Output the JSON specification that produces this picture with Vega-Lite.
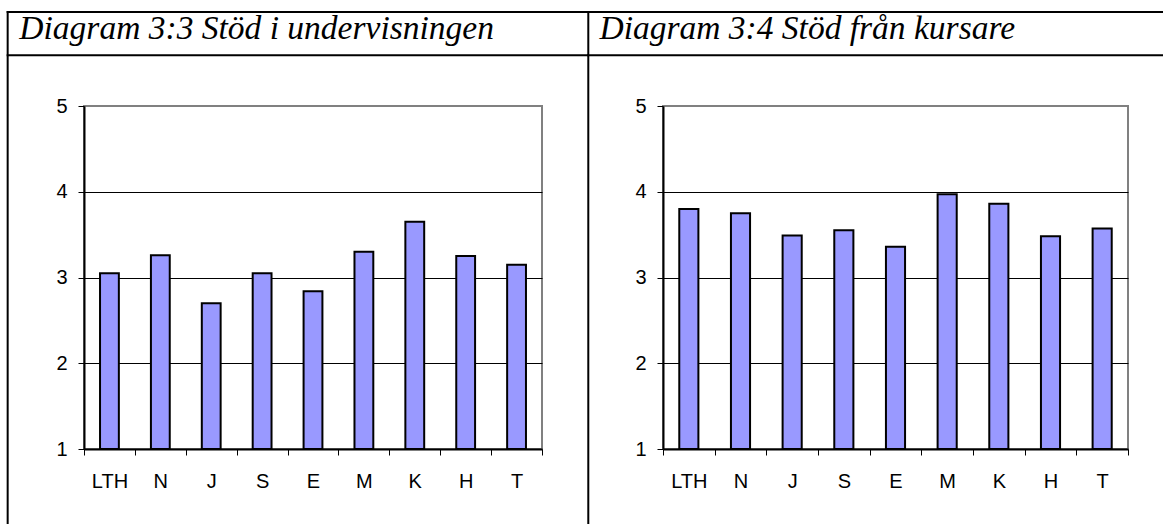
{
  "$schema": "https://vega.github.io/schema/vega-lite/v6.json",
  "padding": {"left": 5, "top": 9, "right": 0, "bottom": 0},
  "background": "white",
  "datasets": {
    "bars": [
      {"panel": "3:3", "program": "LTH", "value": 3.05},
      {"panel": "3:3", "program": "N", "value": 3.26},
      {"panel": "3:3", "program": "J", "value": 2.70},
      {"panel": "3:3", "program": "S", "value": 3.05},
      {"panel": "3:3", "program": "E", "value": 2.84},
      {"panel": "3:3", "program": "M", "value": 3.30},
      {"panel": "3:3", "program": "K", "value": 3.65},
      {"panel": "3:3", "program": "H", "value": 3.25},
      {"panel": "3:3", "program": "T", "value": 3.15},
      {"panel": "3:4", "program": "LTH", "value": 3.80},
      {"panel": "3:4", "program": "N", "value": 3.75},
      {"panel": "3:4", "program": "J", "value": 3.49},
      {"panel": "3:4", "program": "S", "value": 3.55},
      {"panel": "3:4", "program": "E", "value": 3.36},
      {"panel": "3:4", "program": "M", "value": 3.97},
      {"panel": "3:4", "program": "K", "value": 3.86},
      {"panel": "3:4", "program": "H", "value": 3.48},
      {"panel": "3:4", "program": "T", "value": 3.57}
    ],
    "frame": [
      {"panel": "3:3", "x": -1.5, "x2": 9.9, "y": 6.096, "y2": 6.096},
      {"panel": "3:3", "x": -1.5, "x2": 9.9, "y": 5.591, "y2": 5.591},
      {"panel": "3:3", "x": -1.5, "x2": -1.5, "y": 6.096, "y2": 0.12},
      {"panel": "3:4", "x": -1.446, "x2": 9.66, "y": 6.096, "y2": 6.096},
      {"panel": "3:4", "x": -1.446, "x2": 9.66, "y": 5.591, "y2": 5.591},
      {"panel": "3:4", "x": -1.446, "x2": -1.446, "y": 6.096, "y2": 0.12}
    ],
    "titles": [
      {"panel": "3:3", "tx": -1.27, "ty": 5.781, "label": "Diagram 3:3 Stöd i undervisningen"},
      {"panel": "3:4", "tx": -1.23, "ty": 5.781, "label": "Diagram 3:4 Stöd från kursare"}
    ]
  },
  "config": {
    "view": {"stroke": "#808080", "strokeWidth": 2}
  },
  "spacing": 121,
  "bounds": "flush",
  "hconcat": [
    {
      "width": 458,
      "height": 343,
      "resolve": {"scale": {"x": "independent"}},
      "layer": [
        {
          "data": {"name": "bars"},
          "transform": [{"filter": "datum.panel == '3:3'"}],
          "mark": {"type": "bar", "fill": "#9999FF", "stroke": "black", "strokeWidth": 2, "width": {"band": 0.37}},
          "encoding": {
            "x": {"field": "program", "type": "nominal", "sort": null,
              "scale": {"paddingInner": 0, "paddingOuter": 0},
              "axis": {"title": null, "labelAngle": 0, "tickBand": "extent", "labelPadding": 16, "grid": false,
                "labelFont": "Liberation Sans", "labelFontSize": 20, "labelColor": "black",
                "domainColor": "black", "domainWidth": 2, "tickColor": "black", "tickWidth": 1, "tickSize": 6}},
            "y": {"field": "value", "type": "quantitative",
              "scale": {"domain": [1, 5], "zero": false, "nice": false},
              "axis": {"title": null, "values": [1, 2, 3, 4, 5], "format": "d", "grid": true, "gridWidth": 1,
                "gridColor": {"condition": {"test": "datum.value === 5 || datum.value === 1", "value": "transparent"}, "value": "black"},
                "labelPadding": 11,
                "labelFont": "Liberation Sans", "labelFontSize": 20, "labelColor": "black",
                "domainColor": "black", "domainWidth": 2, "tickColor": "black", "tickWidth": 1, "tickSize": 6}},
            "y2": {"datum": 1}
          }
        },
        {
          "data": {"name": "frame"},
          "transform": [{"filter": "datum.panel == '3:3'"}],
          "mark": {"type": "rule", "stroke": "black", "strokeWidth": 2, "strokeCap": "square"},
          "encoding": {
            "x": {"field": "x", "type": "quantitative", "scale": {"domain": [0, 9], "nice": false, "zero": false}, "axis": null},
            "x2": {"field": "x2"},
            "y": {"field": "y", "type": "quantitative", "title": null},
            "y2": {"field": "y2"}
          }
        },
        {
          "data": {"name": "titles"},
          "transform": [{"filter": "datum.panel == '3:3'"}],
          "mark": {"type": "text", "font": "Liberation Serif", "fontStyle": "italic", "fontSize": 33.5, "align": "left", "baseline": "alphabetic", "color": "black"},
          "encoding": {
            "x": {"field": "tx", "type": "quantitative", "scale": {"domain": [0, 9], "nice": false, "zero": false}, "axis": null},
            "y": {"field": "ty", "type": "quantitative", "title": null},
            "text": {"field": "label"}
          }
        }
      ]
    },
    {
      "width": 465,
      "height": 343,
      "resolve": {"scale": {"x": "independent"}},
      "layer": [
        {
          "data": {"name": "bars"},
          "transform": [{"filter": "datum.panel == '3:4'"}],
          "mark": {"type": "bar", "fill": "#9999FF", "stroke": "black", "strokeWidth": 2, "width": {"band": 0.37}},
          "encoding": {
            "x": {"field": "program", "type": "nominal", "sort": null,
              "scale": {"paddingInner": 0, "paddingOuter": 0},
              "axis": {"title": null, "labelAngle": 0, "tickBand": "extent", "labelPadding": 16, "grid": false,
                "labelFont": "Liberation Sans", "labelFontSize": 20, "labelColor": "black",
                "domainColor": "black", "domainWidth": 2, "tickColor": "black", "tickWidth": 1, "tickSize": 6}},
            "y": {"field": "value", "type": "quantitative",
              "scale": {"domain": [1, 5], "zero": false, "nice": false},
              "axis": {"title": null, "values": [1, 2, 3, 4, 5], "format": "d", "grid": true, "gridWidth": 1,
                "gridColor": {"condition": {"test": "datum.value === 5 || datum.value === 1", "value": "transparent"}, "value": "black"},
                "labelPadding": 11,
                "labelFont": "Liberation Sans", "labelFontSize": 20, "labelColor": "black",
                "domainColor": "black", "domainWidth": 2, "tickColor": "black", "tickWidth": 1, "tickSize": 6}},
            "y2": {"datum": 1}
          }
        },
        {
          "data": {"name": "frame"},
          "transform": [{"filter": "datum.panel == '3:4'"}],
          "mark": {"type": "rule", "stroke": "black", "strokeWidth": 2, "strokeCap": "square"},
          "encoding": {
            "x": {"field": "x", "type": "quantitative", "scale": {"domain": [0, 9], "nice": false, "zero": false}, "axis": null},
            "x2": {"field": "x2"},
            "y": {"field": "y", "type": "quantitative", "title": null},
            "y2": {"field": "y2"}
          }
        },
        {
          "data": {"name": "titles"},
          "transform": [{"filter": "datum.panel == '3:4'"}],
          "mark": {"type": "text", "font": "Liberation Serif", "fontStyle": "italic", "fontSize": 33.5, "align": "left", "baseline": "alphabetic", "color": "black"},
          "encoding": {
            "x": {"field": "tx", "type": "quantitative", "scale": {"domain": [0, 9], "nice": false, "zero": false}, "axis": null},
            "y": {"field": "ty", "type": "quantitative", "title": null},
            "text": {"field": "label"}
          }
        }
      ]
    }
  ]
}
